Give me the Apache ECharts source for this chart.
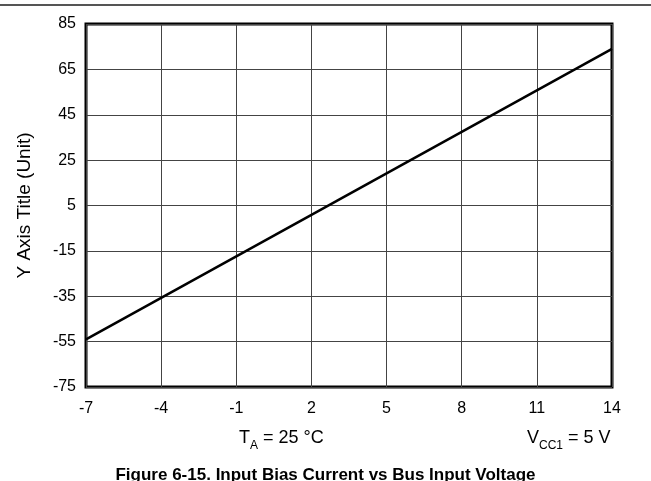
<!DOCTYPE html>
<html><head><meta charset="utf-8">
<script src="https://cdn.jsdelivr.net/npm/echarts@6/dist/echarts.min.js"></script>
<style>html,body{margin:0;padding:0;background:#fff}#c{width:651px;height:481px}</style>
</head><body><div id="c"></div>
<script>
const xTicks = [-7, -4, -1, 2, 5, 8, 11, 14];
const yTicks = [-75, -55, -35, -15, 5, 25, 45, 65, 85];
const lineX = [-7, 14];
const lineY = [-54, 74];
const titleText = 'Figure 6-15. Input Bias Current vs Bus Input Voltage';
const yTitle = 'Y Axis Title (Unit)';

const chart = echarts.init(document.getElementById('c'), null, {renderer: 'canvas'});
const font = 'Liberation Sans, Arial, sans-serif';
const rich = {
  n: {fontSize: 18, fontFamily: font, fill: '#000', verticalAlign: 'top'},
  s: {fontSize: 12, fontFamily: font, fill: '#000', padding: [11, 0, 0, 0], verticalAlign: 'top'}
};
chart.setOption({
  animation: false,
  grid: {left: 86, right: 39, top: 24, bottom: 94, show: true, borderColor: '#000', borderWidth: 3},
  xAxis: {
    type: 'value', min: xTicks[0], max: xTicks[xTicks.length - 1], interval: 3,
    axisLine: {show: false}, axisTick: {show: false},
    axisLabel: {color: '#000', fontSize: 16, fontFamily: font, margin: 14},
    splitLine: {lineStyle: {color: '#444', width: 1}}
  },
  yAxis: {
    type: 'value', min: yTicks[0], max: yTicks[yTicks.length - 1], interval: 20,
    name: yTitle, nameLocation: 'middle', nameGap: 52,
    nameTextStyle: {color: '#000', fontSize: 19, fontFamily: font},
    axisLine: {show: false}, axisTick: {show: false},
    axisLabel: {color: '#000', fontSize: 16, fontFamily: font, margin: 10},
    splitLine: {lineStyle: {color: '#444', width: 1}}
  },
  series: [{
    type: 'line', symbol: 'none',
    data: lineX.map((x, i) => [x, lineY[i]]),
    lineStyle: {color: '#000', width: 2.5}
  }],
  graphic: [
    {type: 'rect', shape: {x: 0, y: 4, width: 651, height: 2}, style: {fill: '#555'}},
    {type: 'text', left: 'center', top: 467, style: {text: titleText, font: 'bold 17px ' + font, fill: '#000'}},
    {type: 'text', x: 239, y: 429, style: {text: '{n|T}{s|A}{n| = 25 °C}', fill: '#000', rich: rich}},
    {type: 'text', x: 527, y: 429, style: {text: '{n|V}{s|CC1}{n| = 5 V}', fill: '#000', rich: rich}}
  ]
});
</script></body></html>
